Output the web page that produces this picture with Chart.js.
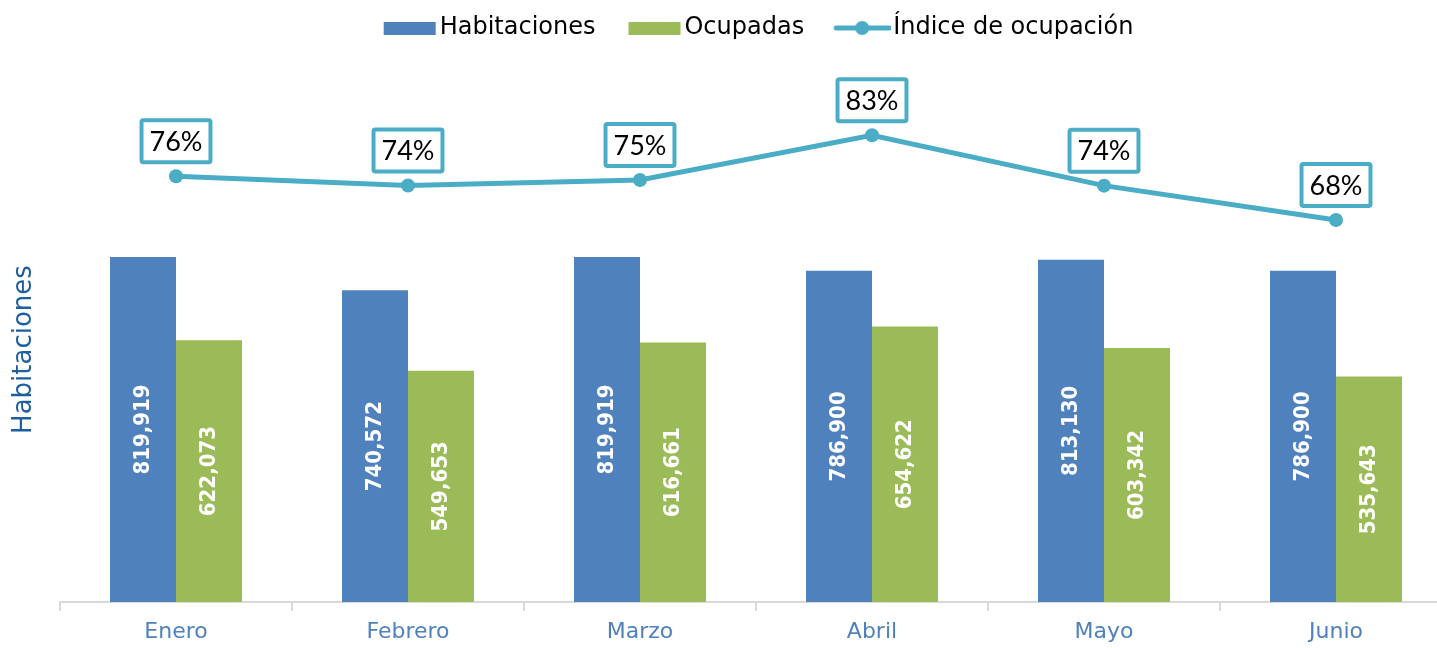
<!DOCTYPE html>
<html>
<head>
<meta charset="utf-8">
<script src="https://cdn.jsdelivr.net/npm/chart.js@4/dist/chart.umd.min.js"></script>
<style>
  html, body { margin: 0; padding: 0; background: #ffffff; overflow: hidden; }
  #wrap { position: relative; width: 1460px; height: 648px; }
</style>
</head>
<body>
<div id="wrap"><canvas id="c"></canvas></div>
<script>
// ---- Data ----
const categories   = ['Enero', 'Febrero', 'Marzo', 'Abril', 'Mayo', 'Junio'];
const habitaciones = [819919, 740572, 819919, 786900, 813130, 786900];
const ocupadas     = [622073, 549653, 616661, 654622, 603342, 535643];
const indice       = [75.87, 74.22, 75.21, 83.19, 74.20, 68.07];
const seriesNames  = ['Habitaciones', 'Ocupadas', 'Índice de ocupación'];
const axisTitle    = 'Habitaciones';

// ---- Styles ----
const BLUE = '#4F81BD', GREEN = '#9BBB59', TEAL = '#4BACC6';
const LEGEND_FONT = 'DejaVu Sans';

function markerRect(color) {
  const c = document.createElement('canvas');
  c.width = 85; c.height = 13;
  const g = c.getContext('2d');
  g.fillStyle = color;
  g.fillRect(31, 0, 52, 13);
  return c;
}
function markerLine(color) {
  const c = document.createElement('canvas');
  c.width = 85; c.height = 16;
  const g = c.getContext('2d');
  g.strokeStyle = color; g.lineWidth = 5; g.lineCap = 'round';
  g.beginPath(); g.moveTo(30, 8); g.lineTo(83, 8); g.stroke();
  g.fillStyle = color;
  g.beginPath(); g.arc(56, 8, 7, 0, Math.PI * 2); g.fill();
  return c;
}
const markers = [markerRect(BLUE), markerRect(GREEN), markerLine(TEAL)];

const legendShift = {
  id: 'legendShift',
  afterLayout(chart) {
    const lg = chart.legend;
    if (!lg) return;
    const dy = -47, dx = 22;
    lg.top += dy; lg.bottom += dy;
    lg.left += dx; lg.right += dx;
  }
};

const valueLabels = {
  id: 'valueLabels',
  afterDatasetsDraw(chart) {
    const ctx = chart.ctx;
    // bar values (rotated, white bold, centred in bar)
    [0, 1].forEach(di => {
      const meta = chart.getDatasetMeta(di);
      const data = chart.data.datasets[di].data;
      meta.data.forEach((el, i) => {
        const cy = (el.y + el.base) / 2;
        ctx.save();
        ctx.translate(el.x, cy);
        ctx.rotate(-Math.PI / 2);
        ctx.font = 'bold 22px "DejaVu Sans Condensed", "DejaVu Sans"';
        ctx.fillStyle = '#ffffff';
        ctx.textAlign = 'center';
        ctx.textBaseline = 'middle';
        ctx.fillText(data[i].toLocaleString('en-US'), 0, 0);
        ctx.restore();
      });
    });
    // line values in boxes
    const meta = chart.getDatasetMeta(2);
    const data = chart.data.datasets[2].data;
    meta.data.forEach((el, i) => {
      const txt = Math.round(data[i]) + '%';
      ctx.save();
      ctx.font = '27px Lato';
      const tw = ctx.measureText(txt).width;
      const w = tw + 20, h = 46;
      const cx = el.x, cy = el.y - 35;
      ctx.fillStyle = '#ffffff';
      ctx.strokeStyle = TEAL;
      ctx.lineWidth = 4;
      ctx.beginPath();
      ctx.roundRect(cx - w / 2 + 2, cy - h / 2 + 2, w - 4, h - 4, 2);
      ctx.fill();
      ctx.stroke();
      ctx.fillStyle = '#000000';
      ctx.textAlign = 'center';
      ctx.textBaseline = 'middle';
      ctx.fillText(txt, cx, cy + 1);
      ctx.restore();
    });
  }
};

new Chart(document.getElementById('c'), {
  type: 'bar',
  data: {
    labels: categories,
    datasets: [
      { label: seriesNames[0], data: habitaciones, backgroundColor: BLUE, yAxisID: 'y',
        categoryPercentage: 0.569, barPercentage: 1.0 },
      { label: seriesNames[1], data: ocupadas, backgroundColor: GREEN, yAxisID: 'y',
        categoryPercentage: 0.569, barPercentage: 1.0 },
      { type: 'line', label: seriesNames[2], data: indice, yAxisID: 'y1',
        borderColor: TEAL, backgroundColor: TEAL, borderWidth: 5,
        pointRadius: 7, pointHoverRadius: 7, pointBackgroundColor: TEAL, pointBorderWidth: 0,
        tension: 0, fill: false }
    ]
  },
  options: {
    responsive: true,
    maintainAspectRatio: false,
    animation: false,
    layout: { padding: { top: 51, left: 0, right: 8, bottom: 0 } },
    plugins: {
      tooltip: { enabled: false },
      legend: {
        position: 'top',
        labels: {
          usePointStyle: true,
          pointStyleWidth: 65,
          padding: 12,
          color: '#595959',
          font: { family: LEGEND_FONT, size: 24 },
          generateLabels: (chart) => chart.data.datasets.map((ds, i) => ({
            text: ds.label, pointStyle: markers[i], datasetIndex: i,
            fillStyle: 'transparent', strokeStyle: 'transparent', lineWidth: 0, hidden: false
          }))
        }
      }
    },
    scales: {
      x: {
        grid: { display: true, drawOnChartArea: false, drawTicks: true, tickLength: 9,
                color: '#D9D9D9', lineWidth: 2, offset: true },
        border: { display: true, color: '#D9D9D9', width: 2 },
        ticks: { color: BLUE, font: { family: 'DejaVu Sans', size: 22 }, padding: 8 },
        afterFit: (s) => { s.height = 46; }
      },
      y: {
        position: 'left', min: 0, max: 1200000,
        grid: { display: false, drawTicks: false },
        border: { display: false },
        ticks: { display: false },
        title: { display: true, text: axisTitle, color: '#1F5E9E',
                 font: { family: 'DejaVu Sans', size: 26 }, padding: { top: 9, bottom: 0 } },
        afterFit: (s) => { s.width = 60; }
      },
      y1: {
        display: false, position: 'right', min: 0, max: 90
      }
    }
  },
  plugins: [legendShift, valueLabels]
});
</script>
</body>
</html>
